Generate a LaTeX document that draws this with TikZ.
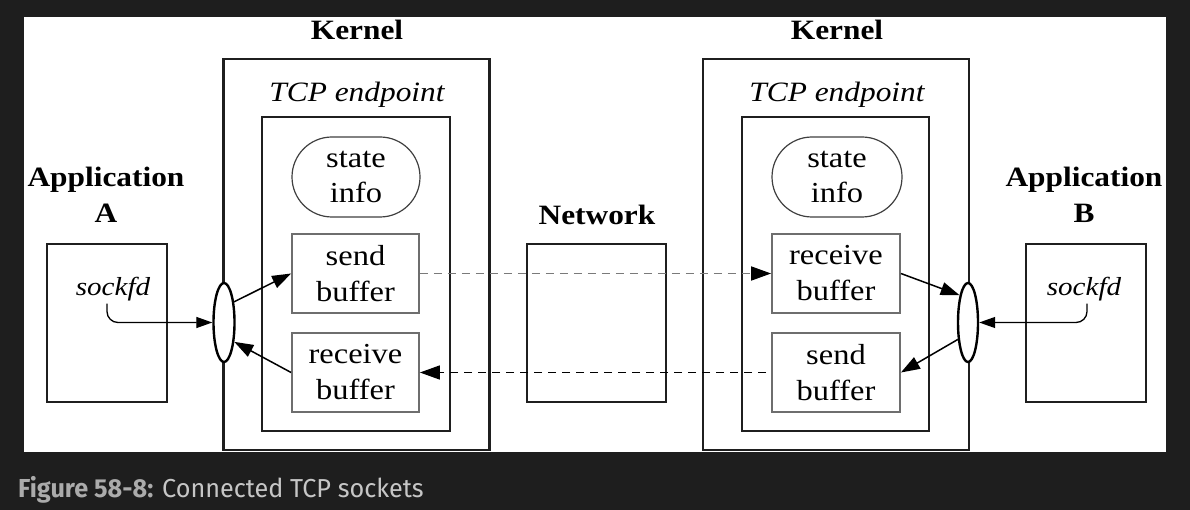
\documentclass[tikz,border=0pt]{standalone}
\usepackage{fontspec}
\setmainfont{Liberation Serif}[FakeStretch=1.12]
\newfontfamily\capfont{Fira Sans}[FakeStretch=0.97]
\usetikzlibrary{arrows.meta,shapes.geometric}
\definecolor{bgdark}{HTML}{1E1E1E}
\definecolor{bufgray}{HTML}{6E6E6E}
\definecolor{dashgray}{HTML}{7A7A7A}
\definecolor{capbold}{HTML}{ABABAB}
\definecolor{capreg}{HTML}{C6C6C6}
\tikzset{
  thickbox/.style={draw=black!88, line width=2.8pt, rectangle, inner sep=0pt},
  bufbox/.style={draw=bufgray, line width=1.8pt, rectangle, inner sep=0pt,
    minimum width=127pt, minimum height=79pt, align=center,
    font=\fontsize{29}{36}\selectfont},
  statebox/.style={draw=black!75, line width=1.2pt, rectangle, rounded corners=40pt,
    inner sep=0pt, minimum width=128pt, minimum height=80pt, align=center,
    font=\fontsize{29}{35}\selectfont},
  sockell/.style={draw=black, fill=white, line width=2.4pt, ellipse, inner sep=0pt,
    minimum width=21pt, minimum height=79pt},
  boldlbl/.style={inner sep=0pt, anchor=base, font=\fontsize{28}{34}\bfseries\selectfont},
  itlbl/.style={inner sep=0pt, anchor=base, font=\fontsize{28}{34}\itshape\selectfont},
  sfdlbl/.style={inner sep=0pt, anchor=base, font=\fontsize{26}{30}\itshape\selectfont},
  arr/.style={line width=1.5pt, -{Triangle[length=19pt,width=13pt]}},
  sarr/.style={line width=1.3pt, -{Triangle[length=16pt,width=11pt]}, rounded corners=11pt},
  dashline/.style={line width=1.7pt, dash pattern=on 8pt off 6pt,
    -{Triangle[length=20pt,width=14pt,color=black]}}
}
\begin{document}
\begin{tikzpicture}[x=1pt,y=-1pt]
\useasboundingbox (0,0) rectangle (1190,510);
\fill[bgdark] (0,0) rectangle (1190,510);
\fill[white] (24,17) rectangle (1166,452);

% Left side
\node[thickbox, minimum width=266pt, minimum height=391pt] (kernelL) at (356.5,254.5) {};
\node[thickbox, minimum width=188pt, minimum height=314pt] (endL) at (356,274) {};
\node[boldlbl] (kernelLlbl) at (357,40) {Kernel};
\node[itlbl] (tcpL) at (357,102) {TCP endpoint};
\node[statebox] (stateL) at (356,177) {state\\info};
\node[bufbox] (sendL) at (355.5,273.5) {send\\buffer};
\node[bufbox] (recvL) at (355.5,372.5) {receive\\buffer};

\node[thickbox, minimum width=120pt, minimum height=158pt] (appA) at (107,323) {};
\node[boldlbl] (appAlbl1) at (106,187) {Application};
\node[boldlbl] (appAlbl2) at (106,223) {A};
\node[sfdlbl] (sfA) at (113,295) {sockfd};

% Network
\node[thickbox, minimum width=139pt, minimum height=158pt] (net) at (596.5,323) {};
\node[boldlbl] (netlbl) at (597,225) {Network};

% Right side
\node[thickbox, minimum width=266pt, minimum height=391pt] (kernelR) at (836,254.5) {};
\node[thickbox, minimum width=187pt, minimum height=314pt] (endR) at (835.5,274) {};
\node[boldlbl] (kernelRlbl) at (837,40) {Kernel};
\node[itlbl] (tcpR) at (837,102) {TCP endpoint};
\node[statebox, minimum width=130pt] (stateR) at (837,177) {state\\info};
\node[bufbox, minimum width=128pt] (recvR) at (836,273.5) {receive\\buffer};
\node[bufbox, minimum width=128pt] (sendR) at (836,372.5) {send\\buffer};

\node[thickbox, minimum width=120pt, minimum height=158pt] (appB) at (1086,323) {};
\node[boldlbl] (appBlbl1) at (1084,187) {Application};
\node[boldlbl] (appBlbl2) at (1084,223) {B};
\node[sfdlbl] (sfB) at (1084,295) {sockfd};

% Sockets
\node[sockell] (sockL) at (224,322.5) {};
\node[sockell, minimum width=20pt] (sockR) at (968,322.5) {};

% Connectors
\draw[sarr] ([xshift=-6pt,yshift=-3pt]sfA.south) |- (sockL.west);
\draw[sarr] ([xshift=3pt,yshift=-3pt]sfB.south) |- (sockR.east);
\draw[arr] (sockL.64) -- (sendL.west);
\draw[arr] (recvL.west) -- (sockL.-62);
\draw[arr] (recvR.east) -- (sockR.107);
\draw[arr] (sockR.-121) -- (sendR.east);
\draw[dashline, draw=dashgray] (sendL.east) -- (recvR.west);
\draw[dashline] ([xshift=-5pt]sendR.west) -- (recvL.east);

% Caption
\node[inner sep=0pt, anchor=base west, font=\capfont\fontsize{26}{30}\selectfont] (caption) at (18,497)
  {\textcolor{capbold}{\bfseries Figure 58-8:} \textcolor{capreg}{Connected TCP sockets}};
\end{tikzpicture}
\end{document}
